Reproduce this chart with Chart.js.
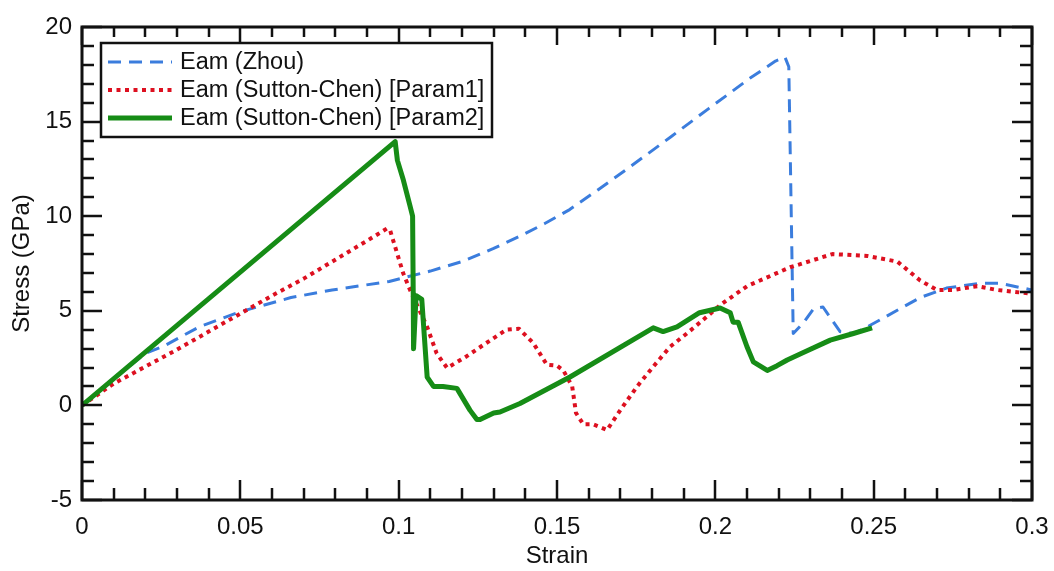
<!DOCTYPE html>
<html>
<head>
<meta charset="utf-8">
<script src="https://cdn.jsdelivr.net/npm/chart.js@4.4.1/dist/chart.umd.min.js"></script>
<style>
html,body{margin:0;padding:0;background:#fff;}
canvas{display:block;}
</style>
</head>
<body>
<canvas id="c" width="1054" height="571"></canvas>
<script>
// ---- Data ----
const seriesLabels = ["Eam (Zhou)", "Eam (Sutton-Chen) [Param1]", "Eam (Sutton-Chen) [Param2]"];

const zhouStrain = [0, 0.01, 0.02, 0.026, 0.037, 0.05, 0.066, 0.079, 0.097, 0.11, 0.12, 0.13, 0.139, 0.146, 0.154, 0.163, 0.173, 0.186, 0.198, 0.211, 0.219, 0.222, 0.2232, 0.2246, 0.228, 0.231, 0.234, 0.2394, 0.2436, 0.248, 0.2647, 0.273, 0.2836, 0.29, 0.3];
const zhouStress = [0, 1.4, 2.75, 3.15, 4.15, 4.95, 5.7, 6.1, 6.55, 7.1, 7.6, 8.3, 9.0, 9.6, 10.35, 11.4, 12.6, 14.2, 15.7, 17.3, 18.2, 18.4, 17.9, 3.8, 4.4, 5.1, 5.2, 3.9, 3.8, 4.15, 5.7, 6.2, 6.45, 6.45, 6.1];

const param1Strain = [0, 0.01, 0.02, 0.03, 0.04, 0.05, 0.06, 0.07, 0.08, 0.09, 0.0963, 0.0973, 0.1014, 0.1036, 0.109, 0.112, 0.1153, 0.1215, 0.1268, 0.134, 0.138, 0.1425, 0.1468, 0.15, 0.152, 0.1548, 0.156, 0.1583, 0.1614, 0.1658, 0.17, 0.1753, 0.1804, 0.1857, 0.191, 0.1974, 0.2015, 0.21, 0.2236, 0.237, 0.248, 0.2575, 0.2647, 0.27, 0.275, 0.2827, 0.289, 0.3];
const param1Stress = [0, 1.15, 2.05, 2.95, 3.9, 4.85, 5.8, 6.7, 7.7, 8.7, 9.35, 9.25, 7.0, 6.1, 4.15, 2.75, 1.98, 2.6, 3.2, 4.0, 4.05, 3.3, 2.15, 2.1, 1.85, 1.0, -0.4, -1.0, -1.0, -1.3, -0.25, 1.0, 2.05, 3.1, 3.8, 4.7, 5.3, 6.3, 7.3, 8.0, 7.9, 7.6, 6.6, 6.1, 6.1, 6.3, 6.1, 5.9];

const param2Strain = [0, 0.0989, 0.0996, 0.1015, 0.1035, 0.1044, 0.1046, 0.1047, 0.1055, 0.1073, 0.109, 0.111, 0.114, 0.1184, 0.1225, 0.1247, 0.1257, 0.13, 0.132, 0.1383, 0.1541, 0.1804, 0.1835, 0.1879, 0.195, 0.2015, 0.2047, 0.2056, 0.2072, 0.21, 0.212, 0.2164, 0.2195, 0.2227, 0.2278, 0.2363, 0.2436, 0.2495];
const param2Stress = [0, 13.94, 12.95, 11.9, 10.6, 10.0, 5.9, 3.0, 5.8, 5.6, 1.5, 1.0, 1.0, 0.9, -0.25, -0.75, -0.75, -0.4, -0.35, 0.1, 1.5, 4.1, 3.9, 4.15, 4.9, 5.15, 4.9, 4.4, 4.4, 3.1, 2.3, 1.85, 2.1, 2.4, 2.8, 3.45, 3.8, 4.1];

const xTickStep = 0.05, xMin = 0, xMax = 0.3;
const yTickStep = 5, yMin = -5, yMax = 20;

// ---- Build chart ----
const toPts = (xs, ys) => xs.map((x, i) => ({x: x, y: ys[i]}));
const FONT = "'Liberation Sans', Arial, Helvetica, sans-serif";
const INK = '#111';

const frameTicks = {
  id: 'frameTicks',
  afterDatasetsDraw(chart) {
    const {ctx, chartArea: a, scales} = chart;
    ctx.save();
    ctx.strokeStyle = INK;
    ctx.lineWidth = 2.5;
    ctx.lineCap = 'butt';
    const xs = scales.x, ys = scales.y;
    for (let i = 0; i <= 30; i++) {
      const v = xMin + i * 0.01;
      const px = Math.round(xs.getPixelForValue(v));
      const major = (i % 5 === 0);
      const lenB = major ? 20 : 12, lenT = major ? 18 : 10;
      ctx.beginPath();
      ctx.moveTo(px, a.bottom); ctx.lineTo(px, a.bottom - lenB);
      ctx.moveTo(px, a.top); ctx.lineTo(px, a.top + lenT);
      ctx.stroke();
    }
    for (let i = 0; i <= 25; i++) {
      const v = yMin + i;
      const py = Math.round(ys.getPixelForValue(v));
      const major = (i % 5 === 0);
      const len = major ? 20 : 12;
      ctx.beginPath();
      ctx.moveTo(a.left, py); ctx.lineTo(a.left + len, py);
      ctx.moveTo(a.right, py); ctx.lineTo(a.right - len, py);
      ctx.stroke();
    }
    ctx.lineWidth = 3;
    ctx.strokeRect(a.left, a.top, a.right - a.left, a.bottom - a.top);
    ctx.restore();
  }
};

const boxLegend = {
  id: 'boxLegend',
  afterDraw(chart) {
    const ctx = chart.ctx;
    const bx = 101, by = 43, bw = 391, bh = 94;
    ctx.save();
    ctx.fillStyle = '#fff';
    ctx.fillRect(bx, by, bw, bh);
    ctx.strokeStyle = INK;
    ctx.lineWidth = 2.5;
    ctx.strokeRect(bx, by, bw, bh);
    chart.data.datasets.forEach((ds, i) => {
      const y = 62 + i * 28;
      ctx.beginPath();
      ctx.strokeStyle = ds.borderColor;
      ctx.lineWidth = ds.borderWidth;
      ctx.setLineDash(ds.borderDash || []);
      ctx.moveTo(108, y); ctx.lineTo(172, y);
      ctx.stroke();
      ctx.setLineDash([]);
      ctx.fillStyle = INK;
      ctx.font = '23.5px ' + FONT;
      ctx.textBaseline = 'middle';
      ctx.textAlign = 'left';
      ctx.fillText(ds.label, 180, y + 1);
    });
    ctx.restore();
  }
};

new Chart(document.getElementById('c'), {
  type: 'line',
  data: {
    datasets: [
      {label: seriesLabels[0], data: toPts(zhouStrain, zhouStress), borderColor: '#3b7ddd', borderWidth: 3, borderDash: [13, 8], order: 2},
      {label: seriesLabels[1], data: toPts(param1Strain, param1Stress), borderColor: '#dd1020', borderWidth: 4, borderDash: [4, 4.5], order: 1},
      {label: seriesLabels[2], data: toPts(param2Strain, param2Stress), borderColor: '#168c16', borderWidth: 5, order: 0}
    ]
  },
  options: {
    responsive: false,
    animation: false,
    devicePixelRatio: 1,
    elements: {point: {radius: 0}, line: {tension: 0, fill: false, borderJoinStyle: 'round'}},
    layout: {padding: {left: 0, right: 22, top: 27, bottom: 0}},
    plugins: {legend: {display: false}, tooltip: {enabled: false}},
    scales: {
      x: {
        type: 'linear', min: xMin, max: xMax,
        grid: {display: false, drawTicks: false},
        border: {display: false},
        afterFit: s => { s.height = 71; s.paddingLeft = 0; s.paddingRight = 0; },
        ticks: {stepSize: xTickStep, autoSkip: false, maxRotation: 0, padding: 13, color: INK,
          font: {family: FONT, size: 24},
          callback: v => String(Number(v.toFixed(2)))},
        title: {display: true, text: 'Strain', color: INK, font: {family: FONT, size: 24}, padding: {top: 0, bottom: 0}}
      },
      y: {
        type: 'linear', min: yMin, max: yMax,
        grid: {display: false, drawTicks: false},
        border: {display: false},
        afterFit: s => { s.width = 82; s.paddingTop = 0; s.paddingBottom = 0; },
        ticks: {stepSize: yTickStep, autoSkip: false, padding: 10, color: INK,
          font: {family: FONT, size: 24}},
        title: {display: true, text: 'Stress (GPa)', color: INK, font: {family: FONT, size: 24}, padding: {top: 8, bottom: 0}}
      }
    }
  },
  plugins: [frameTicks, boxLegend]
});
</script>
</body>
</html>
